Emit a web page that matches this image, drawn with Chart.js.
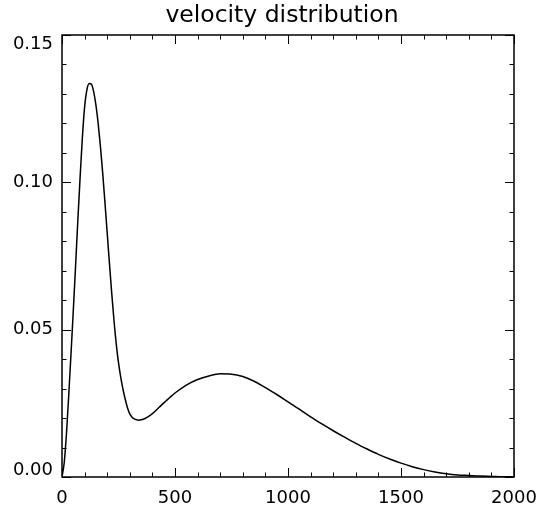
<!DOCTYPE html>
<html>
<head>
<meta charset="utf-8">
<script src="https://cdn.jsdelivr.net/npm/chart.js@4/dist/chart.umd.min.js"></script>
<style>
  html, body { margin: 0; padding: 0; background: #fff; }
  #wrap { width: 540px; height: 512px; }
</style>
</head>
<body>
<div id="wrap"><canvas id="c" width="540" height="512"></canvas></div>
<script>
const titleText = 'velocity distribution';
const velocity = [0,10,20,30,40,50,60,70,80,90,100,110,120,130,140,150,160,170,180,190,200,210,220,230,240,250,260,270,280,290,300,310,320,330,340,350,360,380,400,420,440,460,480,500,550,600,650,700,750,800,850,900,950,1000,1050,1100,1150,1200,1250,1300,1350,1400,1450,1500,1550,1600,1650,1700,1750,1800,1850,1900,1950,2000];
const density = [0,0.0050,0.0150,0.0280,0.0420,0.0565,0.0715,0.0870,0.1015,0.1150,0.1255,0.1313,0.1335,0.1333,0.1308,0.1263,0.1200,0.1122,0.1032,0.0932,0.0828,0.0724,0.0624,0.0532,0.0452,0.0388,0.0338,0.0297,0.0263,0.0234,0.0214,0.0203,0.0197,0.0194,0.0193,0.0194,0.0196,0.0204,0.0215,0.0229,0.0244,0.0258,0.0272,0.0285,0.0312,0.0331,0.0343,0.0350,0.0349,0.0341,0.0325,0.0303,0.0280,0.0255,0.0230,0.0204,0.0180,0.0157,0.0135,0.0114,0.0095,0.0077,0.0061,0.0047,0.0035,0.0025,0.0017,0.0011,0.0007,0.0005,0.0003,0.0002,0.0001,0.0001];
const xTicks = [0,500,1000,1500,2000];
const xTickLabels = ['0','500','1000','1500','2000'];
const yTicks = [0,0.05,0.10,0.15];
const yTickLabels = ['0.00','0.05','0.10','0.15'];
const xMinorStep = 100;
const yMinorStep = 0.01;

const points = velocity.map((v, i) => ({x: v, y: density[i]}));

const framePlugin = {
  id: 'idlFrame',
  afterDraw(chart) {
    const ctx = chart.ctx;
    const ax = chart.scales.x, ay = chart.scales.y;
    const {left, right, top, bottom} = chart.chartArea;
    ctx.save();
    ctx.strokeStyle = '#000';
    ctx.lineWidth = 1;
    const seg = (x1, y1, x2, y2) => { ctx.beginPath(); ctx.moveTo(x1, y1); ctx.lineTo(x2, y2); ctx.stroke(); };
    for (let v = ax.min; v <= ax.max + 1e-9; v += xMinorStep) {
      const isMajor = xTicks.some(t => Math.abs(t - v) < 1e-6);
      const len = isMajor ? 9 : 4.5;
      const px = Math.round(ax.getPixelForValue(v)) + 0.5;
      seg(px, bottom, px, bottom - len);
      seg(px, top, px, top + len);
    }
    for (let k = 0; k * yMinorStep <= ay.max + 1e-9; k++) {
      const v = k * yMinorStep;
      const isMajor = yTicks.some(t => Math.abs(t - v) < 1e-9);
      const len = isMajor ? 9 : 4.5;
      const py = Math.round(ay.getPixelForValue(v)) + 0.5;
      seg(left, py, left + len, py);
      seg(right, py, right - len, py);
    }
    ctx.lineWidth = 1.5;
    ctx.strokeRect(left, top, right - left, bottom - top);
    ctx.fillStyle = '#000';
    ctx.font = '18px "DejaVu Sans"';
    ctx.textAlign = 'center';
    ctx.textBaseline = 'alphabetic';
    xTicks.forEach((t, i) => {
      ctx.fillText(xTickLabels[i], ax.getPixelForValue(t), bottom + 26);
    });
    ctx.textAlign = 'right';
    ctx.textBaseline = 'middle';
    yTicks.forEach((t, i) => {
      let cy = ay.getPixelForValue(t);
      cy = Math.max(top + 9.5, Math.min(bottom - 7, cy));
      ctx.fillText(yTickLabels[i], left - 9, cy);
    });
    // title
    ctx.textAlign = 'center';
    ctx.textBaseline = 'alphabetic';
    ctx.font = '23.5px "DejaVu Sans"';
    ctx.fillText(titleText, (left + right) / 2 - 6, 22);
    ctx.restore();
  }
};

new Chart(document.getElementById('c'), {
  type: 'line',
  data: {
    datasets: [{
      data: points,
      borderColor: '#000',
      borderWidth: 1.5,
      pointRadius: 0,
      fill: false,
      cubicInterpolationMode: 'monotone'
    }]
  },
  options: {
    responsive: false,
    animation: false,
    devicePixelRatio: 1,
    layout: { padding: { left: 62, right: 26, top: 35, bottom: 35 } },
    plugins: {
      legend: { display: false },
      tooltip: { enabled: false },
      title: { display: false }
    },
    scales: {
      x: { type: 'linear', min: 0, max: 2000, display: false },
      y: { type: 'linear', min: 0, max: 0.15, display: false }
    }
  },
  plugins: [framePlugin]
});
</script>
</body>
</html>
